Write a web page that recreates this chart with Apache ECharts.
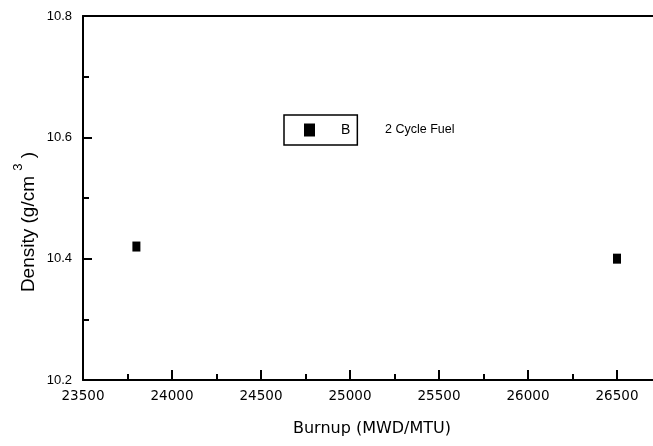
<!DOCTYPE html>
<html>
<head>
<meta charset="utf-8">
<script src="https://cdn.jsdelivr.net/npm/echarts@6/dist/echarts.min.js"></script>
<style>
  html, body { margin: 0; padding: 0; background: #fff; }
  #main { width: 653px; height: 446px; }
</style>
</head>
<body>
<div id="main"></div>
<script>
// 数据
var burnup = [23800, 26500]
var density = [10.42, 10.40]
var seriesName = 'B'
var noteText = '2 Cycle Fuel'

var points = []
for (var i = 0; i < burnup.length; i++) {
  points.push([burnup[i], density[i]])
}

var myChart = echarts.init(document.getElementById('main'))
var option = {
  animation: false,
  backgroundColor: '#fff',
  grid: { left: 83, top: 16, width: 623, height: 364, containLabel: false, outerBoundsMode: 'none' },
  legend: {
    left: 284,
    top: 115,
    orient: 'horizontal',
    data: [seriesName],
    icon: 'rect',
    itemWidth: 11,
    itemHeight: 13,
    padding: [8, 7, 8, 20],
    borderColor: '#000',
    borderWidth: 1.5,
    borderRadius: 0,
    itemStyle: { color: '#000', opacity: 1 },
    textStyle: { color: '#000', fontSize: 14, fontFamily: 'Liberation Sans', padding: [0, 0, 0, 21] }
  },
  xAxis: [{
    type: 'value',
    min: 23500,
    max: 27000,
    interval: 500,
    axisLine: { lineStyle: { color: '#000', width: 2 } },
    axisTick: { inside: true, length: 10, lineStyle: { color: '#000', width: 2 } },
    minorTick: { show: true, splitNumber: 2, length: 6, lineStyle: { color: '#000', width: 2 } },
    axisLabel: {
      color: '#000', fontSize: 13.5, fontFamily: 'DejaVu Sans', margin: 9,
      formatter: function (v) { return String(v) }
    },
    splitLine: { show: false }
  }, {
    type: 'value',
    position: 'top',
    min: 23500,
    max: 27000,
    axisLine: { show: true, lineStyle: { color: '#000', width: 2 } },
    axisTick: { show: false },
    axisLabel: { show: false },
    splitLine: { show: false }
  }],
  yAxis: {
    type: 'value',
    min: 10.2,
    max: 10.8,
    interval: 0.2,
    axisLine: { show: true, lineStyle: { color: '#000', width: 2 } },
    axisTick: { inside: true, length: 9, lineStyle: { color: '#000', width: 2 } },
    minorTick: { show: true, splitNumber: 2, length: 6, lineStyle: { color: '#000', width: 2 } },
    axisLabel: {
      color: '#000', fontSize: 13, fontFamily: 'Liberation Sans', margin: 11,
      formatter: function (v) { return v.toFixed(1) }
    },
    splitLine: { show: false }
  },
  graphic: [{
    type: 'text',
    left: 385,
    top: 123,
    style: { text: noteText, fill: '#000', font: '12.5px "Liberation Sans"' }
  }, {
    type: 'text',
    x: 372,
    y: 429,
    style: {
      text: 'Burnup (MWD/MTU)', fill: '#000', font: '16px "DejaVu Sans"',
      align: 'center', verticalAlign: 'middle'
    }
  }, {
    type: 'text',
    x: 25,
    y: 222,
    rotation: Math.PI / 2,
    style: {
      text: '{a|Density (g/cm }{s|3}{a| )}',
      align: 'center',
      verticalAlign: 'middle',
      rich: {
        a: { fontSize: 19, fontFamily: 'Liberation Sans', fill: '#000', lineHeight: 26, verticalAlign: 'bottom' },
        s: { fontSize: 13, fontFamily: 'Liberation Sans', fill: '#000', lineHeight: 26, verticalAlign: 'top' }
      }
    }
  }],
  series: [{
    name: seriesName,
    type: 'scatter',
    symbol: 'rect',
    symbolSize: [8, 10],
    itemStyle: { color: '#000', opacity: 1 },
    data: points
  }]
}
myChart.setOption(option)
</script>
</body>
</html>
